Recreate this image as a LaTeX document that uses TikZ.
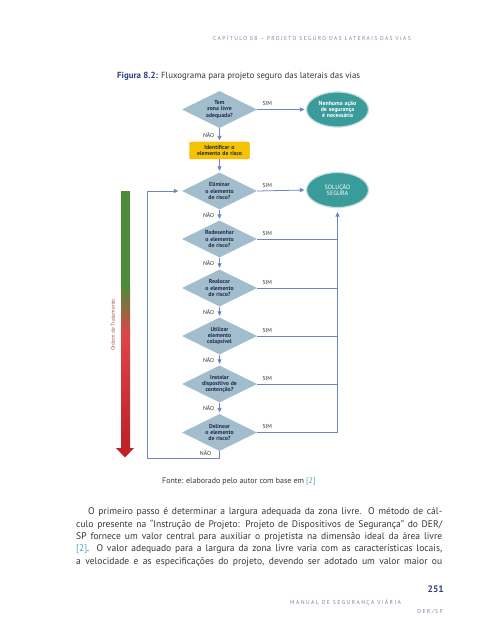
\documentclass[tikz,border=0pt]{standalone}
\usepackage{fontspec}
\setmainfont{PT Sans}
\newfontfamily\spacedfont[LetterSpace=25]{PT Sans}
\usetikzlibrary{shapes.geometric,arrows.meta}
\definecolor{diafill}{HTML}{A2BECD}
\definecolor{navy}{HTML}{1E2A4A}
\definecolor{tealc}{HTML}{3A9C9A}
\definecolor{tealedge}{HTML}{CADCDC}
\definecolor{yel}{HTML}{F6C300}
\definecolor{yeledge}{HTML}{E9A700}
\definecolor{conn}{HTML}{7283C6}
\definecolor{hdrgray}{HTML}{7D84A8}
\definecolor{capblue}{HTML}{2E3C84}
\definecolor{txt}{HTML}{363636}
\definecolor{refteal}{HTML}{4AA8B8}
\definecolor{grn}{HTML}{4C8C38}
\definecolor{redA}{HTML}{DE4449}
\definecolor{redB}{HTML}{BE2129}
\definecolor{ordem}{HTML}{B25A4E}
\tikzset{
  dia/.style={diamond, shape aspect=2, fill=diafill, inner sep=0pt,
    minimum width=75bp, minimum height=37bp, text width=30bp, align=center,
    text=navy, font=\fontsize{5.8}{6.3}\selectfont\bfseries},
  ell/.style={ellipse, fill=tealc, draw=tealedge, line width=1.2bp, inner sep=0pt,
    minimum width=62bp, minimum height=35bp, text width=40bp, align=center,
    text=white, font=\fontsize{5.9}{6.4}\selectfont\bfseries},
  ybox/.style={rectangle, rounded corners=2bp, fill=yel, draw=yeledge, line width=0.4bp,
    inner sep=0pt, minimum width=60bp, minimum height=17bp, text width=58bp,
    align=center, text=navy, font=\fontsize{5.8}{6.3}\selectfont\bfseries},
  lbl/.style={text=txt, inner sep=1bp, font=\fontsize{5.8}{6.3}\selectfont},
  siml/.style={lbl, anchor=south west, pos=0, xshift=4bp, yshift=2.5bp},
  naol/.style={lbl, left=4bp},
  cline/.style={draw=conn, line width=0.8bp},
  arr/.style={cline, -{Triangle[width=4.2bp,length=4.5bp]}, shorten >=1.5bp},
}
\begin{document}
\begin{tikzpicture}[x=1bp,y=-1bp]
\useasboundingbox (0,0) rectangle (479,640);
\fill[white] (0,0) rectangle (479,640);

% header and caption
\node[anchor=base west, inner sep=0, text=hdrgray, font=\fontsize{5.6}{6}\spacedfont] (hdr) at (213,40.5)
  {CAPÍTULO 08 – PROJETO SEGURO DAS LATERAIS DAS VIAS};
\node[anchor=base west, inner sep=0, text=txt, font=\fontsize{8.9}{10}\selectfont] (cap) at (117,79)
  {\textcolor{capblue}{\bfseries Figura 8.2:} Fluxograma para projeto seguro das laterais das vias};

% flowchart nodes
\node[dia] (d1) at (219.5,109.5) {Tem\\zona livre\\adequada?};
\node[ell] (e1) at (337.5,109.5) {Nenhuma ação\\de segurança\\é necessária};
\node[ybox] (b1) at (219.5,150.5) {Identificar o\\elemento de risco};
\node[dia] (d2) at (219.5,191) {Eliminar\\o elemento\\de risco?};
\node[ell, font=\fontsize{6.2}{6.8}\selectfont] (e2) at (337.5,190) {SOLUÇÃO\\SEGURA};
\node[dia] (d3) at (219.5,239) {Redesenhar\\o elemento\\de risco?};
\node[dia] (d4) at (219.5,288) {Realocar\\o elemento\\de risco?};
\node[dia] (d5) at (219.5,336) {Utilizar\\elemento\\colapsível};
\node[dia] (d6) at (219.5,384) {Instalar\\\makebox[0pt]{dispositivo de}\\contenção?};
\node[dia] (d7) at (219.5,432.5) {Delinear\\o elemento\\de risco?};

% SIM connectors
\draw[arr] (d1.east) -- node[siml] {SIM} (e1.west);
\draw[arr] (d2.east) -- node[siml] {SIM} (e2.west);
\foreach \d in {d3,d4,d5,d6}
  \draw[cline] (\d.east) -- node[siml] {SIM} (\d.east -| e2.south);
\coordinate (r7) at (d7.east -| e2.south);
\draw[cline] (d7.east) -- node[siml] {SIM} (r7);
\draw[arr, shorten >=4bp] (r7) -- (e2.south);

% NAO connectors
\draw[arr] (d1.south) -- node[naol] {NÃO} (b1.north);
\draw[arr] (b1.south) -- (d2.north);
\draw[arr] (d2.south) -- node[naol] {NÃO} (d3.north);
\draw[arr] (d3.south) -- node[naol] {NÃO} (d4.north);
\draw[arr] (d4.south) -- node[naol] {NÃO} (d5.north);
\draw[arr] (d5.south) -- node[naol] {NÃO} (d6.north);
\draw[arr] (d6.south) -- node[naol] {NÃO} (d7.north);

% loop back
\coordinate (lb) at (147,458);
\draw[arr, shorten >=3.5bp] (d7.south) |- (lb) |- (d2.west);
\node[lbl] (n7) at (205.5,453.5) {NÃO};

% gradient arrow "Ordem de Tratamento"
\fill[grn] (121,191) rectangle (130,285.5);
\shade[top color=grn, bottom color=redA] (121,285) rectangle (130,335.5);
\shade[top color=redA, bottom color=redB] (121,335) rectangle (130,448.5);
\fill[redB] (116,448) -- (134,448) -- (125,457.5) -- cycle;
\node[rotate=90, text=ordem, inner sep=0, font=\fontsize{5.6}{6}\selectfont] (ordem) at (113,325) {Ordem de Tratamento};

% source
\node[anchor=base west, inner sep=0, text=txt, font=\fontsize{8}{9}\selectfont] (fonte) at (162,483.5)
  {Fonte: elaborado pelo autor com base em \textcolor{refteal}{[2]}};

% paragraph
\begin{scope}[every node/.style={anchor=base west, inner sep=0, text=txt, font=\fontsize{9.6}{11}\selectfont}]
\node (p1) at (88,514.8) {\makebox[354bp][s]{O primeiro passo é determinar a largura adequada da zona livre. O método de cál-}};
\node (p2) at (76,527.1) {\makebox[366bp][s]{culo presente na “Instrução de Projeto: Projeto de Dispositivos de Segurança” do DER/}};
\node (p3) at (76,539.4) {\makebox[366bp][s]{SP fornece um valor central para auxiliar o projetista na dimensão ideal da área livre}};
\node (p4) at (76,551.7) {\makebox[366bp][s]{\textcolor{refteal}{[2]}. O valor adequado para a largura da zona livre varia com as características locais,}};
\node (p5) at (76,564) {\makebox[366bp][s]{a velocidade e as especificações do projeto, devendo ser adotado um valor maior ou}};
\end{scope}

% footer
\node[anchor=base east, inner sep=0, text=capblue, font=\fontsize{9.5}{10}\selectfont\bfseries] (pg) at (444,592.5) {251};
\node[anchor=base west, inner sep=0, text=hdrgray, font=\fontsize{5.7}{6}\spacedfont] (man) at (290,604) {MANUAL DE SEGURANÇA VIÁRIA};
\node[anchor=base east, inner sep=0, text=hdrgray, font=\fontsize{5.7}{6}\spacedfont] (der) at (443,613.5) {DER/SP};
\end{tikzpicture}
\end{document}
